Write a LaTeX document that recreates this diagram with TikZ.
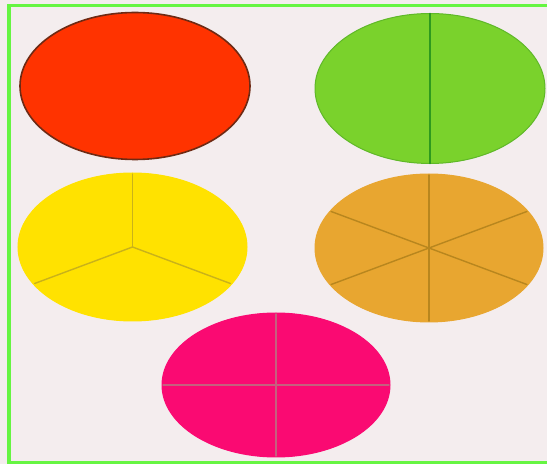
\documentclass[tikz,border=0pt]{standalone}
\usetikzlibrary{shapes.geometric,calc}
\definecolor{bgc}{HTML}{F4EDEE}
\definecolor{framec}{HTML}{66F542}
\definecolor{redc}{HTML}{FF3300}
\definecolor{rededge}{HTML}{6E2A14}
\definecolor{greenc}{HTML}{7AD22C}
\definecolor{greenedge}{HTML}{5FB828}
\definecolor{greenline}{HTML}{2E9A1E}
\definecolor{yellowc}{HTML}{FFE200}
\definecolor{yellowline}{HTML}{C9B21A}
\definecolor{orangec}{HTML}{E8A630}
\definecolor{orangeline}{HTML}{B8861E}
\definecolor{pinkc}{HTML}{FA0A72}
\definecolor{pinkline}{HTML}{C4607E}
\tikzset{
  disc/.style={ellipse, inner sep=0pt, line width=1pt},
  spoke/.style={line width=1.4pt, line cap=round}
}
\begin{document}
\begin{tikzpicture}[x=1pt,y=1pt]
\useasboundingbox (0,0) rectangle (547,464);
\clip (0,0) rectangle (547,464);
\fill[bgc] (0,0) rectangle (547,464);
\draw[framec, line width=3.5pt] (9,1) rectangle (552,458.5);
% red
\node[disc, fill=redc, draw=rededge, line width=1.6pt, minimum width=230pt, minimum height=147pt] (red) at (135,378) {};
% green
\node[disc, fill=greenc, draw=greenedge, minimum width=230pt, minimum height=150pt] (green) at (430,375.5) {};
\draw[spoke, greenline] ($(green.center)+(90:115 and 75)$) coordinate (g1) -- (green.center) -- ($(green.center)+(270:115 and 75)$) coordinate (g2);
% yellow
\node[disc, fill=yellowc, draw=yellowc, minimum width=229pt, minimum height=148pt] (yellow) at (132.5,217) {};
\foreach \a in {90,210,330}
  \draw[spoke, yellowline] (yellow.center) -- ($(yellow.center)+(\a:113 and 73)$);
% orange
\node[disc, fill=orangec, draw=orangec, minimum width=228pt, minimum height=148pt] (orange) at (429,216) {};
\foreach \a in {30,90,150,210,270,330}
  \draw[spoke, orangeline] (orange.center) -- ($(orange.center)+(\a:113 and 73)$);
% pink
\node[disc, fill=pinkc, draw=pinkc, minimum width=228pt, minimum height=144pt] (pink) at (276,79) {};
\foreach \a in {0,90,180,270}
  \draw[spoke, pinkline] (pink.center) -- ($(pink.center)+(\a:113 and 71)$);
\end{tikzpicture}
\end{document}
